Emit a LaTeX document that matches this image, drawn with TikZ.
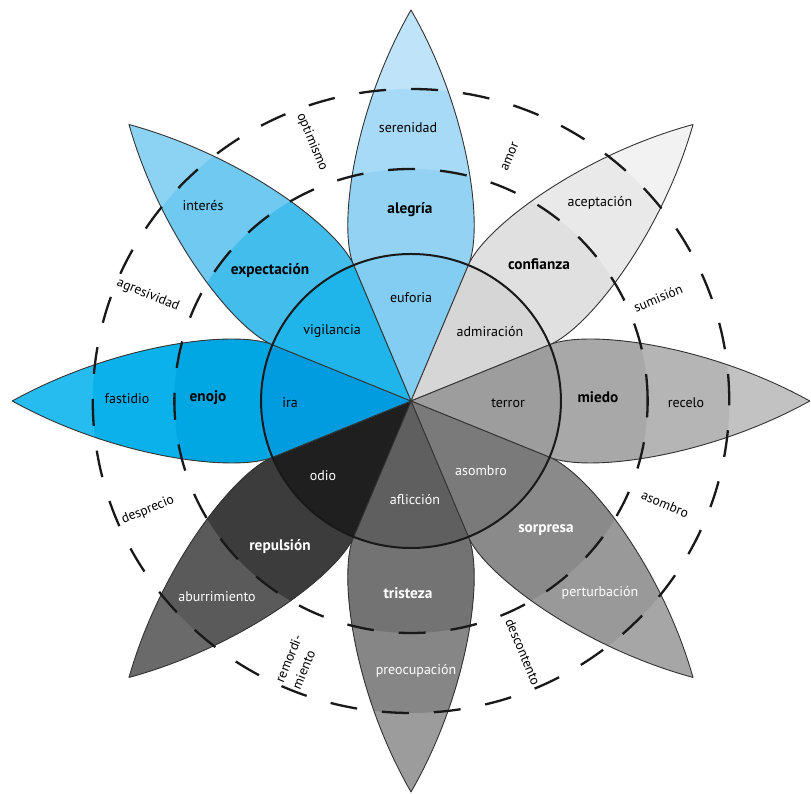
\documentclass[tikz,border=0pt]{standalone}
\usepackage{fontspec}
\setmainfont{PT Sans}
% zone colours of each petal: tip, outer ring, middle ring, inner disc
\definecolor{joyT}{HTML}{BFE4F9}\definecolor{joyO}{HTML}{A7DAF6}\definecolor{joyM}{HTML}{93D2F3}\definecolor{joyI}{HTML}{84CDF2}
\definecolor{truT}{HTML}{F2F2F2}\definecolor{truO}{HTML}{E9E9E9}\definecolor{truM}{HTML}{E0E0E0}\definecolor{truI}{HTML}{D6D6D6}
\definecolor{feaT}{HTML}{C2C2C2}\definecolor{feaO}{HTML}{B5B5B5}\definecolor{feaM}{HTML}{A8A8A8}\definecolor{feaI}{HTML}{9D9D9D}
\definecolor{surT}{HTML}{A6A6A6}\definecolor{surO}{HTML}{999999}\definecolor{surM}{HTML}{8A8A8A}\definecolor{surI}{HTML}{7A7A7A}
\definecolor{sadT}{HTML}{9C9C9C}\definecolor{sadO}{HTML}{868686}\definecolor{sadM}{HTML}{737373}\definecolor{sadI}{HTML}{5F5F5F}
\definecolor{disT}{HTML}{6A6A6A}\definecolor{disO}{HTML}{5A5A5A}\definecolor{disM}{HTML}{3C3C3C}\definecolor{disI}{HTML}{1F1F1F}
\definecolor{angT}{HTML}{26BCEF}\definecolor{angO}{HTML}{0AB1EA}\definecolor{angM}{HTML}{00A7E3}\definecolor{angI}{HTML}{009CDF}
\definecolor{antT}{HTML}{8CD3F3}\definecolor{antO}{HTML}{70C9F0}\definecolor{antM}{HTML}{42BDEC}\definecolor{antI}{HTML}{1FB5EA}

% one petal along +x, zones cut by the three rings
\newcommand\flowerpetal[5]{%
  \begin{scope}[rotate=#1]
    \begin{scope}
      \clip (0,0) -- (135.8,56.3) .. controls (173,71.6) and (290,57) .. (391,0)
            .. controls (290,-57) and (173,-71.6) .. (135.8,-56.3) -- cycle;
      \fill[#2] (0,0) circle (400);
      \fill[#3] (0,0) circle (312);
      \fill[#4] (0,0) circle (232);
      \fill[#5] (0,0) circle (147);
    \end{scope}
    \draw[petaledge] (0,0) -- (135.8,56.3) .. controls (173,71.6) and (290,57) .. (391,0)
          .. controls (290,-57) and (173,-71.6) .. (135.8,-56.3) -- cycle;
  \end{scope}}

\begin{document}
\begin{tikzpicture}[x=1pt,y=1pt,
  petaledge/.style={draw=black!80, line width=0.9pt, line join=round},
  ringline/.style={draw=black!90, line width=2.3pt, dash pattern=on 27pt off 25pt},
  hub/.style={draw=black!90, line width=2pt},
  lbl/.style={font=\fontsize{14}{16}\selectfont, inner sep=0pt},
  blbl/.style={font=\fontsize{15.3}{17}\selectfont\bfseries, inner sep=0pt},
  wlbl/.style={lbl, text=white},
  wblbl/.style={blbl, text=white},
  dyad/.style={font=\fontsize{13.5}{18}\selectfont, inner sep=0pt, align=left}]
\useasboundingbox (0,0) rectangle (811,794);

\begin{scope}[shift={(411,393)}, xscale=1.02]
  \flowerpetal{90}{joyT}{joyO}{joyM}{joyI}
  \flowerpetal{45}{truT}{truO}{truM}{truI}
  \flowerpetal{0}{feaT}{feaO}{feaM}{feaI}
  \flowerpetal{-45}{surT}{surO}{surM}{surI}
  \flowerpetal{-90}{sadT}{sadO}{sadM}{sadI}
  \flowerpetal{-135}{disT}{disO}{disM}{disI}
  \flowerpetal{180}{angT}{angO}{angM}{angI}
  \flowerpetal{135}{antT}{antO}{antM}{antI}
  \draw[hub] (0,0) circle (147);
  \draw[ringline] (0,0) circle (232);
  \draw[ringline] (0,0) circle (312);
\end{scope}

% petal labels
\node[lbl]   (serenidad)   at (408,666) {serenidad};
\node[blbl]  (alegria)     at (410,584) {alegría};
\node[lbl]   (euforia)     at (411,496) {euforia};
\node[lbl]   (aceptacion)  at (600,591) {aceptación};
\node[blbl]  (confianza)   at (539,530) {confianza};
\node[lbl]   (admiracion)  at (490,462) {admiración};
\node[lbl]   (recelo)      at (686,391) {recelo};
\node[blbl]  (miedo)       at (598,397) {miedo};
\node[lbl]   (terror)      at (508,391) {terror};
\node[wlbl]  (perturb)     at (600,201) {perturbación};
\node[wblbl] (sorpresa)    at (546,264) {sorpresa};
\node[wlbl]  (asombroin)   at (481,323) {asombro};
\node[wlbl]  (preocup)     at (416,123) {preocupación};
\node[wblbl] (tristeza)    at (408,201) {tristeza};
\node[wlbl]  (afliccion)   at (415,294) {aflicción};
\node[wlbl]  (aburrim)     at (217,197) {aburrimiento};
\node[wblbl] (repulsion)   at (280,247) {repulsión};
\node[wlbl]  (odio)        at (323,318) {odio};
\node[lbl]   (fastidio)    at (127,395) {fastidio};
\node[blbl]  (enojo)       at (208,396) {enojo};
\node[lbl]   (ira)         at (290,391) {ira};
\node[lbl]   (interes)     at (203,588) {interés};
\node[blbl]  (expectacion) at (270,523) {expectación};
\node[lbl]   (vigilancia)  at (332,463) {vigilancia};

% dyad labels between the petals
\node[dyad, rotate=-67.5] (optimismo)   at (312,652) {optimismo};
\node[dyad, rotate=67.5]  (amor)        at (510,637) {amor};
\node[dyad, rotate=22.5]  (sumision)    at (658,496) {sumisión};
\node[dyad, rotate=-22.5] (asombroout)  at (665,290) {asombro};
\node[dyad, rotate=-67.5] (descontento) at (523,142) {descontento};
\node[dyad, rotate=67.5]  (remordim)    at (297,132) {remordi-\\miento};
\node[dyad, rotate=22.5]  (desprecio)   at (148,284) {desprecio};
\node[dyad, rotate=-22.5] (agresividad) at (148,499) {agresividad};
\end{tikzpicture}
\end{document}
